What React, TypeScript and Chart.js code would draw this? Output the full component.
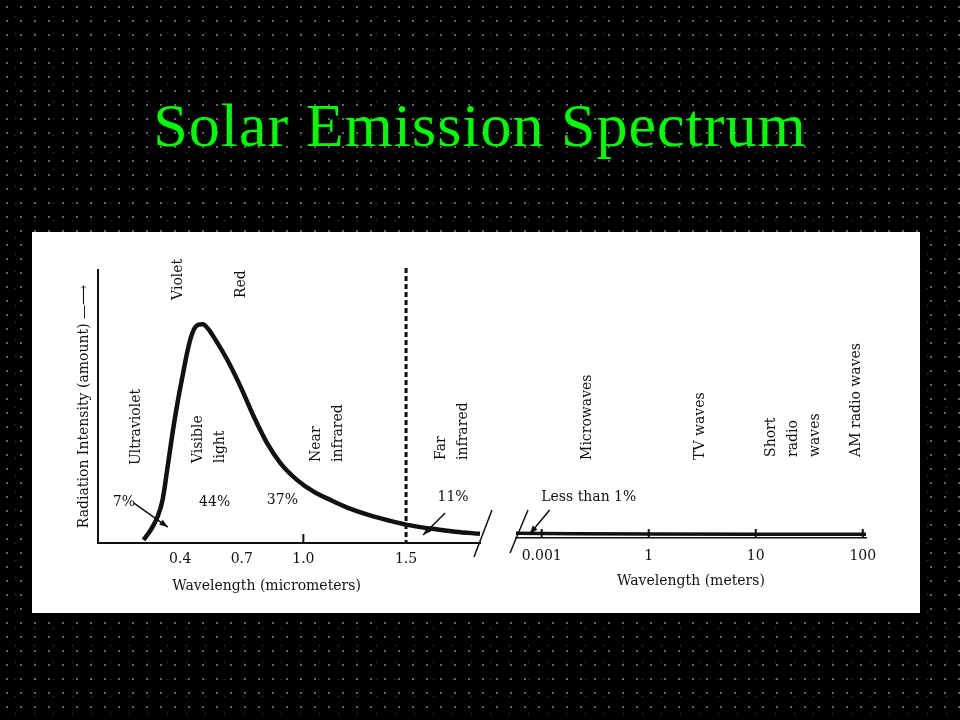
import { useEffect, useRef } from "react";
import { Chart, registerables } from "chart.js";

Chart.register(...registerables);

const FONT = "'DejaVu Serif', 'DejaVu Sans', serif";
const INK = "#111111";

// ---- Left panel: wavelength in micrometers ----
const micrometerWavelengths = [0.222, 0.257, 0.29, 0.314, 0.339, 0.363, 0.387, 0.411, 0.436, 0.452, 0.468, 0.49, 0.51, 0.533, 0.573, 0.63, 0.694, 0.759, 0.824, 0.889, 0.97, 1.05, 1.132, 1.22, 1.32, 1.42, 1.5, 1.62, 1.74, 1.86];
const micrometerIntensity = [1.4, 6.0, 12.0, 19.5, 34.9, 50.4, 64.1, 76.1, 88.0, 94.0, 98.0, 100.0, 100.2, 98.4, 92.9, 83.8, 71.6, 57.8, 45.6, 36.5, 28.8, 23.5, 19.7, 16.0, 12.8, 10.2, 8.4, 6.6, 5.2, 4.2];
const micrometerTicks = [0.4, 0.7, 1.0, 1.5];
const micrometerTickMarks = [1.0];
const infraredBoundary = 1.5;

// ---- Right panel: wavelength in meters (hand-spaced decades) ----
const meterPositions = [-0.24, 0.3, 1, 2, 3, 3.03];
const meterIntensity = [2.2, 2.0, 1.9, 1.8, 1.7, 1.7];
const meterTickLabels = ["0.001", "1", "10", "100"];
const meterTickPositions = [0, 1, 2, 3];

// ---- Annotations (data coordinates) ----
const leftBands = [
  { lines: ["Violet"], x: 0.389, y: 111.3 },
  { lines: ["Red"], x: 0.699, y: 112.2 },
  { lines: ["Ultraviolet"], x: 0.189, y: 35.7 },
  { lines: ["Visible", "light"], x: 0.491, y: 36.6 },
  { lines: ["Near", "infrared"], x: 1.064, y: 37.1 },
  { lines: ["Far", "infrared"], x: 1.671, y: 38.0 },
];
const leftShares = [
  { text: "7%", x: 0.126, y: 18.8 },
  { text: "44%", x: 0.568, y: 18.8 },
  { text: "37%", x: 0.898, y: 19.7 },
  { text: "11%", x: 1.729, y: 21.1 },
];
const leftArrows = [
  { x1: 0.175, y1: 18.3, x2: 0.34, y2: 7.3 },
  { x1: 1.69, y1: 13.7, x2: 1.583, y2: 3.7 },
];
const rightBands = [
  { lines: ["Microwaves"], x: 0.43, y: 36.4 },
  { lines: ["TV waves"], x: 1.486, y: 36.4 },
  { lines: ["Short", "radio", "waves"], x: 2.15, y: 37.8 },
  { lines: ["AM radio waves"], x: 2.944, y: 37.8 },
];
const rightShares = [{ text: "Less than 1%", x: 0.44, y: 19.1 }];
const rightArrows = [{ x1: 0.075, y1: 13.1, x2: -0.112, y2: 1.9 }];

type Band = { lines: string[]; x: number; y: number };
type Share = { text: string; x: number; y: number };
type Arrow = { x1: number; y1: number; x2: number; y2: number };
type Spec = {
  bands: Band[];
  shares: Share[];
  arrows: Arrow[];
  tickMarks: number[];
  dashedAt?: number;
  breakSide: "left" | "right";
  xTitle?: { text: string; x: number; y: number };
};

function annotationPlugin(spec: Spec) {
  return {
    id: "annotations",
    afterDraw(chart: any) {
      const { ctx, chartArea } = chart;
      const xs = chart.scales.x;
      const ys = chart.scales.y;
      ctx.save();
      ctx.fillStyle = INK;
      ctx.strokeStyle = INK;
      ctx.lineCap = "butt";

      if (spec.dashedAt !== undefined) {
        const px = xs.getPixelForValue(spec.dashedAt);
        ctx.setLineDash([5, 3]);
        ctx.lineWidth = 3;
        ctx.beginPath();
        ctx.moveTo(px, chartArea.top - 2);
        ctx.lineTo(px, chartArea.bottom);
        ctx.stroke();
        ctx.setLineDash([]);
      }

      ctx.lineWidth = 2;
      spec.tickMarks.forEach((v) => {
        const px = xs.getPixelForValue(v);
        ctx.beginPath();
        ctx.moveTo(px, chartArea.bottom);
        ctx.lineTo(px, chartArea.bottom - 9);
        ctx.stroke();
      });

      ctx.font = `14px ${FONT}`;
      ctx.textBaseline = "middle";
      ctx.textAlign = "left";
      spec.bands.forEach((b) => {
        ctx.save();
        ctx.translate(xs.getPixelForValue(b.x), ys.getPixelForValue(b.y));
        ctx.rotate(-Math.PI / 2);
        b.lines.forEach((l, i) => ctx.fillText(l, 0, i * 22));
        ctx.restore();
      });

      ctx.textAlign = "center";
      spec.shares.forEach((s) => {
        ctx.fillText(s.text, xs.getPixelForValue(s.x), ys.getPixelForValue(s.y));
      });

      ctx.lineWidth = 1.5;
      spec.arrows.forEach((a) => {
        const x1 = xs.getPixelForValue(a.x1);
        const y1 = ys.getPixelForValue(a.y1);
        const x2 = xs.getPixelForValue(a.x2);
        const y2 = ys.getPixelForValue(a.y2);
        const ang = Math.atan2(y2 - y1, x2 - x1);
        ctx.beginPath();
        ctx.moveTo(x1, y1);
        ctx.lineTo(x2, y2);
        ctx.stroke();
        const h = 9;
        ctx.beginPath();
        ctx.moveTo(x2, y2);
        ctx.lineTo(x2 - h * Math.cos(ang - 0.35), y2 - h * Math.sin(ang - 0.35));
        ctx.lineTo(x2 - h * Math.cos(ang + 0.35), y2 - h * Math.sin(ang + 0.35));
        ctx.closePath();
        ctx.fill();
      });

      ctx.lineWidth = 1.5;
      ctx.beginPath();
      if (spec.breakSide === "right") {
        ctx.moveTo(chartArea.right + 12, chartArea.bottom - 33);
        ctx.lineTo(chartArea.right - 6, chartArea.bottom + 14);
      } else {
        ctx.moveTo(chartArea.left + 12, chartArea.bottom - 28);
        ctx.lineTo(chartArea.left - 6, chartArea.bottom + 15);
      }
      ctx.stroke();

      if (spec.xTitle) {
        ctx.font = `14px ${FONT}`;
        ctx.textAlign = "center";
        ctx.fillText(spec.xTitle.text, xs.getPixelForValue(spec.xTitle.x), ys.getPixelForValue(spec.xTitle.y));
      }
      ctx.restore();
    },
  };
}

const tickFont = { family: FONT, size: 14 };

export default function App() {
  const leftRef = useRef<HTMLCanvasElement>(null);
  const rightRef = useRef<HTMLCanvasElement>(null);

  useEffect(() => {
    const left = new Chart(leftRef.current as HTMLCanvasElement, {
      type: "line",
      data: {
        datasets: [
          {
            data: micrometerWavelengths.map((x, i) => ({ x, y: micrometerIntensity[i] })),
            borderColor: INK,
            borderWidth: 4.5,
            pointRadius: 0,
            cubicInterpolationMode: "monotone",
            fill: false,
            clip: false,
          } as any,
        ],
      },
      options: {
        animation: false,
        responsive: true,
        maintainAspectRatio: false,
        layout: { padding: { top: 38, right: 20, left: 0, bottom: 0 } },
        plugins: { legend: { display: false }, tooltip: { enabled: false } },
        scales: {
          x: {
            type: "linear",
            min: 0,
            max: 1.86,
            grid: { display: false, drawTicks: false },
            border: { display: true, color: INK, width: 2 },
            afterBuildTicks: (s: any) => {
              s.ticks = micrometerTicks.map((v) => ({ value: v }));
            },
            afterFit: (s: any) => {
              s.height = 70;
            },
            ticks: {
              color: INK,
              font: tickFont,
              padding: 8,
              autoSkip: false,
              maxRotation: 0,
              callback: (v: any) => Number(v).toFixed(1),
            },
          },
          y: {
            type: "linear",
            min: 0,
            max: 125,
            grid: { display: false, drawTicks: false },
            border: { display: true, color: INK, width: 2 },
            ticks: { display: false },
            afterFit: (s: any) => {
              s.width = 28;
            },
            title: {
              display: true,
              text: "Radiation Intensity (amount) \u2014\u27F6",
              color: INK,
              font: tickFont,
              padding: { top: 6, bottom: 0 },
            },
          },
        },
      } as any,
      plugins: [
        annotationPlugin({
          bands: leftBands,
          shares: leftShares,
          arrows: leftArrows,
          tickMarks: micrometerTickMarks,
          dashedAt: infraredBoundary,
          breakSide: "right",
          xTitle: { text: "Wavelength (micrometers)", x: 0.821, y: -20 },
        }),
      ],
    });

    const right = new Chart(rightRef.current as HTMLCanvasElement, {
      type: "line",
      data: {
        datasets: [
          {
            data: meterPositions.map((x, i) => ({ x, y: meterIntensity[i] })),
            borderColor: INK,
            borderWidth: 3.5,
            pointRadius: 0,
            fill: false,
            clip: false,
          } as any,
        ],
      },
      options: {
        animation: false,
        responsive: true,
        maintainAspectRatio: false,
        layout: { padding: { top: 38, right: 54, left: 16, bottom: 0 } },
        plugins: { legend: { display: false }, tooltip: { enabled: false } },
        scales: {
          x: {
            type: "linear",
            min: -0.24,
            max: 3.03,
            grid: { display: false, drawTicks: false },
            border: { display: true, color: INK, width: 1.5 },
            afterBuildTicks: (s: any) => {
              s.ticks = meterTickPositions.map((v) => ({ value: v }));
            },
            afterFit: (s: any) => {
              s.height = 75;
            },
            ticks: {
              color: INK,
              font: tickFont,
              padding: 10,
              autoSkip: false,
              maxRotation: 0,
              callback: (v: any) => meterTickLabels[meterTickPositions.indexOf(Number(v))],
            },
            title: {
              display: true,
              text: "Wavelength (meters)",
              color: INK,
              font: tickFont,
              padding: { top: 4, bottom: 23 },
            },
          },
          y: {
            type: "linear",
            display: false,
            min: 0,
            max: 125,
          },
        },
      } as any,
      plugins: [
        annotationPlugin({
          bands: rightBands,
          shares: rightShares,
          arrows: rightArrows,
          tickMarks: meterTickPositions,
          breakSide: "left",
        }),
      ],
    });

    return () => {
      left.destroy();
      right.destroy();
    };
  }, []);

  return (
    <div
      style={{
        position: "fixed",
        left: 0,
        top: 0,
        width: 960,
        height: 720,
        overflow: "hidden",
        backgroundColor: "#000",
        backgroundImage:
          "radial-gradient(circle, rgba(200,200,200,0.5) 0 0.8px, rgba(0,0,0,0) 1.3px), radial-gradient(circle, rgba(150,140,140,0.3) 0 0.7px, rgba(0,0,0,0) 1.2px)",
        backgroundSize: "14px 14px, 19px 17px",
        backgroundPosition: "0 0, 6px 8px",
      }}
    >
      <div
        style={{
          position: "absolute",
          left: 0,
          top: 94,
          width: 960,
          textAlign: "center",
          fontFamily: "'Liberation Serif', serif",
          fontSize: 62,
          lineHeight: "62px",
          letterSpacing: 1,
          color: "#00ff00",
          whiteSpace: "nowrap",
        }}
      >
        Solar Emission Spectrum
      </div>
      <div
        style={{
          position: "absolute",
          left: 32,
          top: 232,
          width: 888,
          height: 381,
          background: "#ffffff",
        }}
      >
        <div style={{ position: "absolute", left: 38, top: 0, width: 430, height: 381 }}>
          <canvas ref={leftRef} />
        </div>
        <div style={{ position: "absolute", left: 468, top: 0, width: 420, height: 381 }}>
          <canvas ref={rightRef} />
        </div>
      </div>
    </div>
  );
}
